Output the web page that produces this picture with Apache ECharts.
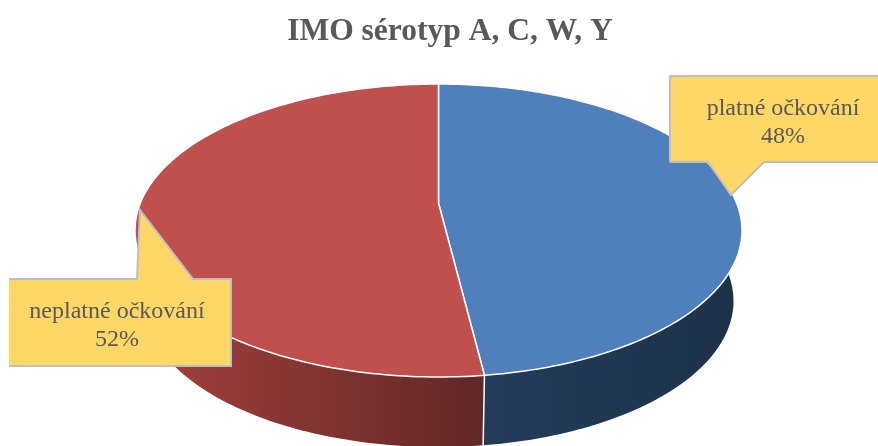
<!DOCTYPE html>
<html>
<head>
<meta charset="utf-8">
<style>
  html, body { margin: 0; padding: 0; background: #fff; }
  #chart { width: 878px; height: 446px; }
</style>
<script src="https://cdn.jsdelivr.net/npm/echarts@6/dist/echarts.min.js"></script>
</head>
<body>
<div id="chart"></div>
<script>
const chartTitle = 'IMO sérotyp A, C, W, Y'
const sliceNames = ['platné očkování', 'neplatné očkování']
const sliceValues = [48, 52]

const total = sliceValues.reduce((a, b) => a + b, 0)

// top face and lower rim of the "3D" pie
const topFace = { cx: 438.5, cy: 230.5, rx: 303.5, ry: 146.5 }
const lowFace = { cx: 438.5, cy: 301, rx: 295, ry: 146 }
// pulls the pie centre towards the viewer's far side (perspective)
const tilt = -0.188

const topColors = ['#4f80bc', '#bf504d']
const sideColors = [
  { from: 481, to: 742, stops: ['#233c5a', '#1d3249'] },
  { from: 135, to: 481, stops: ['#a5413f', '#622727'] }
]

// callout boxes: outline runs open on the side that has no visible border
const callouts = [
  {
    outline: [[670, 162], [670, 76], [896, 76], [896, 162], [764, 162], [731, 195], [708, 162]],
    closed: true,
    textX: 783, textY: 123
  },
  {
    outline: [[9, 279], [137, 279], [140, 210], [193, 279], [231, 279], [231, 366], [9, 366]],
    closed: false,
    textX: 117, textY: 326
  }
]

// point on a rim, angle in radians clockwise from the top
const rimPoint = (face, angle) => {
  const x = Math.sin(angle)
  const y = -Math.cos(angle)
  const d = 1 + tilt * y
  const px = (x * Math.sqrt(1 - tilt * tilt)) / d
  const py = (y + tilt) / d
  return [face.cx + px * face.rx, face.cy + py * face.ry]
}

const sliceRange = (index) => {
  let start = 0
  for (let i = 0; i < index; i++) start += sliceValues[i]
  return [(start / total) * Math.PI * 2, ((start + sliceValues[index]) / total) * Math.PI * 2]
}

const arcPoints = (face, a0, a1) => {
  const points = []
  const steps = 180
  for (let i = 0; i <= steps; i++) {
    points.push(rimPoint(face, a0 + ((a1 - a0) * i) / steps))
  }
  return points
}

const renderSide = (params, api) => {
  const [a0, a1] = sliceRange(params.dataIndex)
  const upper = arcPoints(topFace, a0, a1)
  const lower = arcPoints(lowFace, a0, a1).reverse()
  const side = sideColors[params.dataIndex]
  return {
    type: 'group',
    children: [
      {
        type: 'polygon',
        shape: { points: upper.concat(lower) },
        style: {
          fill: new echarts.graphic.LinearGradient(side.from, 0, side.to, 0, [
            { offset: 0, color: side.stops[0] },
            { offset: 1, color: side.stops[1] }
          ], true)
        }
      },
      {
        type: 'line',
        shape: {
          x1: rimPoint(topFace, a0)[0],
          y1: rimPoint(topFace, a0)[1],
          x2: rimPoint(lowFace, a0)[0],
          y2: rimPoint(lowFace, a0)[1]
        },
        style: { stroke: '#fff', lineWidth: params.dataIndex === 1 ? 1.5 : 0 }
      }
    ]
  }
}

const renderTop = (params, api) => {
  const [a0, a1] = sliceRange(params.dataIndex)
  const apex = [topFace.cx, topFace.cy + tilt * topFace.ry]
  return {
    type: 'polygon',
    shape: { points: [apex].concat(arcPoints(topFace, a0, a1)) },
    style: { fill: topColors[params.dataIndex], stroke: '#fff', lineWidth: 1.5, lineJoin: 'round' }
  }
}

const renderCallout = (params, api) => {
  const box = callouts[params.dataIndex]
  const pct = Math.round((api.value(0) / total) * 100)
  return {
    type: 'group',
    children: [
      {
        type: 'polygon',
        shape: { points: box.outline },
        style: { fill: '#ffd766' }
      },
      {
        type: 'polyline',
        shape: { points: box.closed ? box.outline.concat([box.outline[0]]) : box.outline },
        style: { fill: 'none', stroke: '#bfbfbf', lineWidth: 2 }
      },
      {
        type: 'text',
        style: {
          x: box.textX,
          y: box.textY,
          text: sliceNames[params.dataIndex] + '\n' + pct + '%',
          fill: '#595959',
          font: '24px "Liberation Serif"',
          lineHeight: 28,
          align: 'center',
          verticalAlign: 'middle'
        }
      }
    ]
  }
}

const chart = echarts.init(document.getElementById('chart'))
const pieData = sliceValues.map((v, i) => ({ value: [v], name: sliceNames[i] }))

chart.setOption({
  animation: false,
  backgroundColor: '#fff',
  title: {
    text: chartTitle,
    left: 445,
    top: 11,
    textAlign: 'center',
    textStyle: {
      fontFamily: 'Liberation Serif',
      fontSize: 31.5,
      fontWeight: 'bold',
      color: '#595959'
    }
  },
  series: [
    { type: 'custom', coordinateSystem: 'none', z: 1, silent: true, data: pieData, renderItem: renderSide },
    { type: 'custom', coordinateSystem: 'none', z: 2, silent: true, data: pieData, renderItem: renderTop },
    { type: 'custom', coordinateSystem: 'none', z: 3, silent: true, data: pieData, renderItem: renderCallout }
  ]
})
</script>
</body>
</html>
